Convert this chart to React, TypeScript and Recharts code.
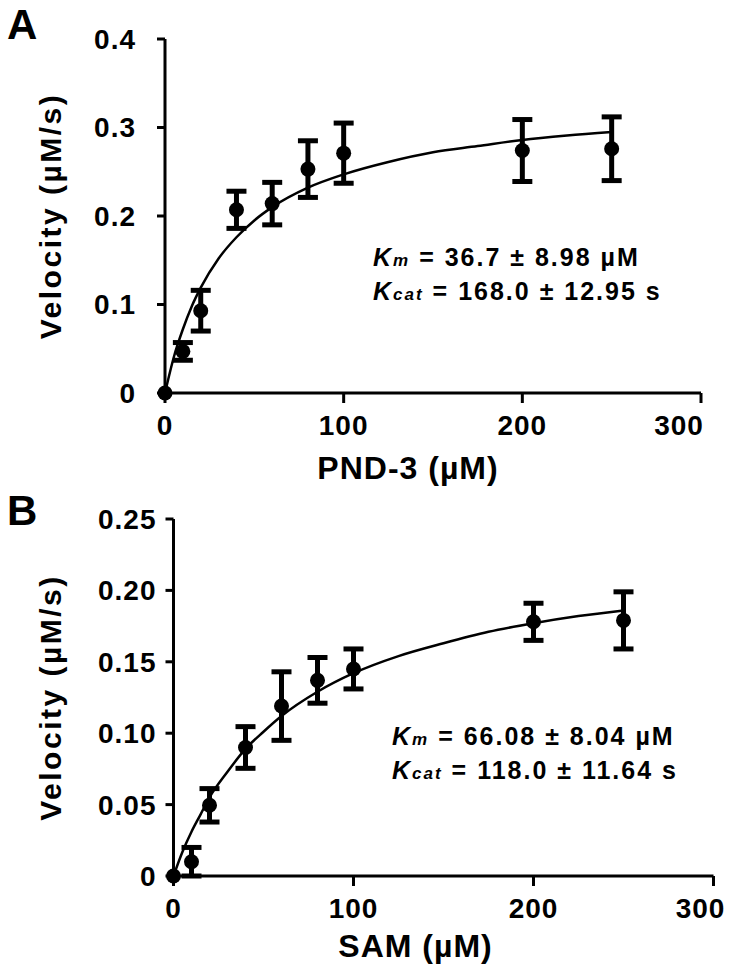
import React from 'react';
import { ComposedChart, Scatter, Line, XAxis, YAxis, ErrorBar } from 'recharts';

const FONT = '"Liberation Sans", Arial, Helvetica, sans-serif';

const xTicks = [0, 100, 200, 300];

// A: PND-3 titration
const pndConc = [0, 10, 20, 40, 60, 80, 100, 200, 250];
const pndVel = [0, 0.047, 0.093, 0.207, 0.214, 0.253, 0.271, 0.274, 0.276];
const pndErr = [0, 0.01, 0.023, 0.021, 0.024, 0.032, 0.034, 0.035, 0.036];
const pndFitConc = [0, 5, 10, 15, 20, 30, 40, 50, 60, 80, 100, 125, 150, 175, 200, 225, 250];
const pndFitVel = [0, 0.041, 0.072, 0.098, 0.119, 0.152, 0.176, 0.195, 0.21, 0.232, 0.247, 0.261, 0.272, 0.279, 0.286, 0.291, 0.295];
const pndYTicks = [0, 0.1, 0.2, 0.3, 0.4];

// B: SAM titration
const samConc = [0, 10, 20, 40, 60, 80, 100, 200, 250];
const samVel = [0, 0.01, 0.0495, 0.09, 0.119, 0.137, 0.145, 0.178, 0.179];
const samErr = [0, 0.01, 0.0117, 0.0146, 0.024, 0.016, 0.014, 0.013, 0.02];
const samFitConc = [0, 5, 10, 15, 20, 30, 40, 50, 60, 80, 100, 125, 150, 175, 200, 225, 250];
const samFitVel = [0, 0.017, 0.031, 0.043, 0.055, 0.073, 0.089, 0.101, 0.112, 0.129, 0.142, 0.154, 0.163, 0.171, 0.177, 0.182, 0.186];
const samYTicks = [0, 0.05, 0.1, 0.15, 0.2, 0.25];

const kmA = ' = 36.7 \u00b1 8.98 \u00b5M';
const kcatA = ' = 168.0 \u00b1 12.95 s';
const kmB = ' = 66.08 \u00b1 8.04 \u00b5M';
const kcatB = ' = 118.0 \u00b1 11.64 s';

const X_AXIS_H = 30;

const toPoints = (xs: number[], ys: number[], errs?: number[]) =>
  xs.map((x, i) => ({ x, y: ys[i], err: errs ? errs[i] : 0 }));

const axisStroke = { stroke: '#000', strokeWidth: 3 };
const tickStyle = { fill: '#000', fontSize: 28, fontWeight: 700, fontFamily: FONT, letterSpacing: 1 };

const dot = (p: any) => <circle cx={p.cx} cy={p.cy} r={7.5} fill="#000" />;

// last x tick label sits a bit left of its tick, as in the figure
const xTick = (lastShift: number) => (p: any) => {
  const last = p.payload.value === xTicks[xTicks.length - 1];
  return (
    <text x={p.x + (last ? lastShift : 0)} y={p.y} dy="0.71em" textAnchor="middle"
      fontSize={28} fontWeight={700} fontFamily={FONT} letterSpacing={1} fill="#000">
      {p.payload.value}
    </text>
  );
};

const xTitle = (text: string, dx: number, dy: number) => (props: any) => {
  const { x, y, width } = props.viewBox;
  return (
    <text x={x + width / 2 + dx} y={y + dy} textAnchor="middle" fontSize={32} fontWeight={700}
      fontFamily={FONT} letterSpacing={1} fill="#000">
      {text}
    </text>
  );
};

const yTitle = (text: string) => (props: any) => {
  const { y, height } = props.viewBox;
  const cx = 50;
  const cy = y + height / 2;
  return (
    <text x={cx} y={cy} transform={`rotate(-90, ${cx}, ${cy})`} textAnchor="middle" dominantBaseline="central"
      fontSize={30} fontWeight={700} fontFamily={FONT} letterSpacing={2.5} fill="#000">
      {text}
    </text>
  );
};

function Panel(props: any) {
  const { top, height, plotTop, plotBottom, left, right, points, fit, yTicks, yFormat, yTickMargin, xLabel, xLabelDx, xLabelDy, lastShift } = props;
  return (
    <div style={{ position: 'absolute', left: 0, top }}>
      <ComposedChart width={729} height={height}
        margin={{ top: plotTop, right, bottom: height - plotBottom - X_AXIS_H, left: 0 }}>
        <XAxis type="number" dataKey="x" domain={[0, 300]} ticks={xTicks} interval={0} height={X_AXIS_H}
          tickSize={10} tickMargin={12} axisLine={axisStroke} tickLine={axisStroke} tick={xTick(lastShift)}
          label={{ content: xTitle(xLabel, xLabelDx, xLabelDy) }} />
        <YAxis type="number" dataKey="y" domain={[0, yTicks[yTicks.length - 1]]} ticks={yTicks} interval={0}
          width={left} tickSize={8} tickMargin={yTickMargin} tickFormatter={yFormat}
          axisLine={axisStroke} tickLine={axisStroke} tick={tickStyle}
          label={{ content: yTitle('Velocity (\u00b5M/s)') }} />
        <Line data={fit} dataKey="y" type="monotone" stroke="#000" strokeWidth={2.5}
          dot={false} activeDot={false} isAnimationActive={false} />
        <Scatter data={points} dataKey="y" fill="#000" shape={dot} isAnimationActive={false}>
          <ErrorBar dataKey="err" direction="y" width={10} stroke="#000" strokeWidth={5} />
        </Scatter>
      </ComposedChart>
    </div>
  );
}

function Kinetics({ x, y, km, kcat }: { x: number; y: number; km: string; kcat: string }) {
  const common = { fontSize: 25, fontWeight: 700, fontFamily: FONT, fill: '#000', letterSpacing: 2, style: { whiteSpace: 'pre' as const } };
  return (
    <g>
      <text x={x} y={y} {...common}>
        <tspan fontStyle="italic">K</tspan>
        <tspan fontStyle="italic" fontSize={17}>m</tspan>
        <tspan>{km}</tspan>
      </text>
      <text x={x} y={y + 34} {...common}>
        <tspan fontStyle="italic">K</tspan>
        <tspan fontStyle="italic" fontSize={17}>cat</tspan>
        <tspan>{kcat}</tspan>
      </text>
    </g>
  );
}

export default function App() {
  return (
    <div style={{ position: 'absolute', left: 0, top: 0, width: 729, height: 965, background: '#fff', overflow: 'hidden' }}>
      <Panel top={0} height={500} plotTop={39} plotBottom={393} left={165} right={28}
        points={toPoints(pndConc, pndVel, pndErr)} fit={toPoints(pndFitConc, pndFitVel)}
        yTicks={pndYTicks} yFormat={(v: number) => String(v)} yTickMargin={21}
        xLabel={'PND-3 (\u00b5M)'} xLabelDx={-25} xLabelDy={86} lastShift={-22} />
      <Panel top={480} height={485} plotTop={39} plotBottom={396} left={173.5} right={15.5}
        points={toPoints(samConc, samVel, samErr)} fit={toPoints(samFitConc, samFitVel)}
        yTicks={samYTicks} yFormat={(v: number) => (v === 0 ? '0' : v.toFixed(2))} yTickMargin={9}
        xLabel={'SAM (\u00b5M)'} xLabelDx={-28} xLabelDy={81} lastShift={-13} />
      <svg width={729} height={965} style={{ position: 'absolute', left: 0, top: 0, pointerEvents: 'none' }}>
        <text x={7} y={39} fontSize={42} fontWeight={700} fontFamily={FONT}>A</text>
        <text x={7} y={525} fontSize={42} fontWeight={700} fontFamily={FONT}>B</text>
        <Kinetics x={373} y={266} km={kmA} kcat={kcatA} />
        <Kinetics x={392} y={745} km={kmB} kcat={kcatB} />
      </svg>
    </div>
  );
}
